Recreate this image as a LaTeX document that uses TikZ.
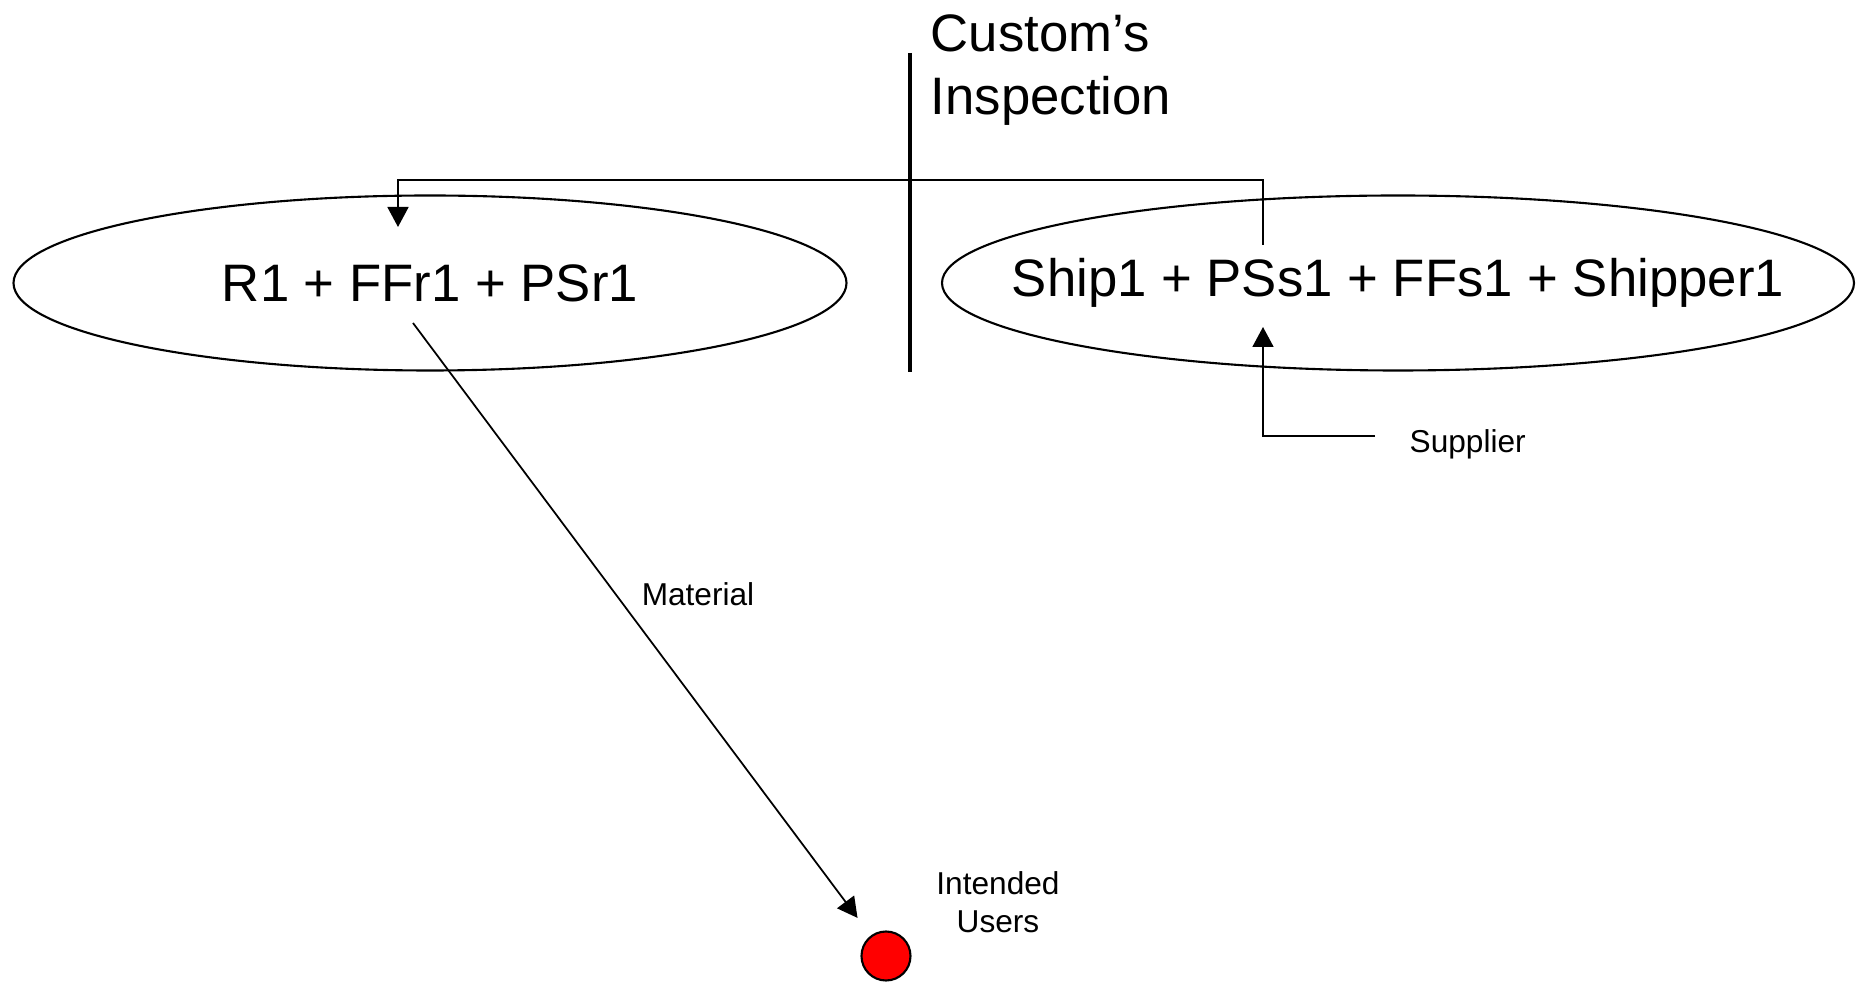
\documentclass[tikz,border=0pt]{standalone}
\usepackage{fontspec}
\setmainfont{Liberation Sans}
\usetikzlibrary{shapes.geometric,arrows.meta}

\begin{document}
\begin{tikzpicture}
[party/.style={ellipse,draw=black,line width=0.6pt,inner sep=0pt,minimum height=1.75cm,font=\fontsize{15}{18}\selectfont},
 flow/.style={draw=black,line width=0.5pt,-{Triangle[width=0.21cm,length=0.2cm]}},
 small/.style={inner sep=0pt,font=\fontsize{9}{10.8}\selectfont}]
\useasboundingbox (0,0) rectangle (18.58,9.84);

\node[party,minimum width=8.33cm] (recv) at (4.30,7.01) {R1 + FFr1 + PSr1};
\node[party,minimum width=9.12cm,inner xsep=-0.66cm] (ship) at (13.98,7.01) {Ship1 + PSs1 + FFs1 + Shipper1};

% customs border
\draw[line width=1.2pt] (9.10,9.31) -- (9.10,6.12);
\node[inner sep=0pt,anchor=west,align=left,font=\fontsize{15}{18}\selectfont] (cust) at (9.30,9.14) {Custom's\\Inspection};

% ship to receiver
\coordinate (shipout) at (12.63,7.39);
\coordinate (recvin) at (3.98,7.57);
\draw[flow] (shipout) -- ++(0,0.65) -| (recvin);

% supplier
\node[small,anchor=base west] (sup) at (14.09,5.31) {Supplier};
\coordinate (supout) at (13.75,5.48);
\coordinate (supin) at (12.63,6.57);
\draw[flow] (supout) -| (supin);

% material to users
\node[circle,draw=black,fill=red,line width=0.6pt,minimum size=0.49cm,inner sep=0pt] (user) at (8.86,0.28) {};
\node[small,align=center] (userlbl) at (9.98,0.82) {Intended\\Users};
\coordinate (matout) at (4.13,6.61);
\draw[flow,shorten >=0.22cm] (matout) -- (user);
\node[small] (mat) at (6.98,3.90) {Material};

\end{tikzpicture}
\end{document}
